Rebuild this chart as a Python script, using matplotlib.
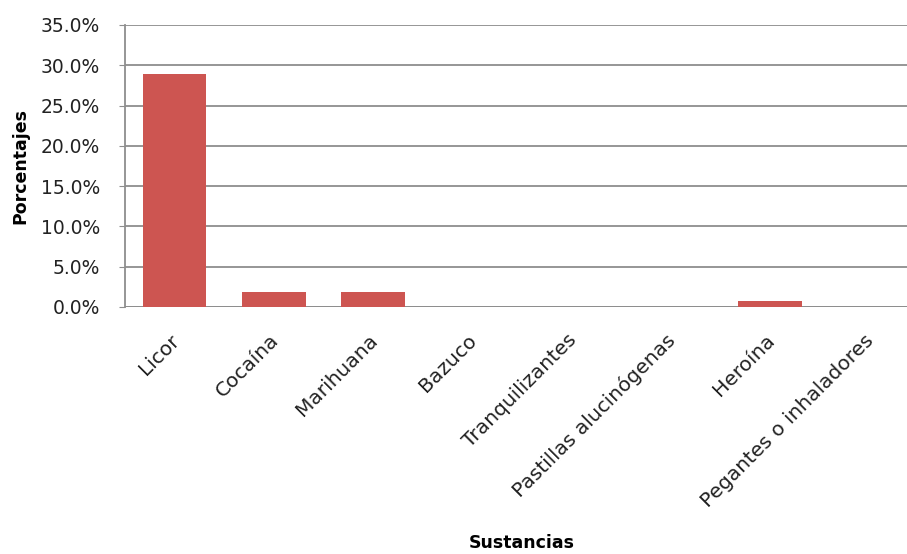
import matplotlib
matplotlib.use("Agg")
import matplotlib.pyplot as plt
import matplotlib.transforms as mtransforms
from matplotlib.ticker import PercentFormatter

categories = ["Licor", "Cocaína", "Marihuana", "Bazuco", "Tranquilizantes",
              "Pastillas alucinógenas", "Heroína", "Pegantes o inhaladores"]
values = [28.9, 1.8, 1.8, 0.0, 0.0, 0.0, 0.8, 0.0]
yticks = [0, 5, 10, 15, 20, 25, 30, 35]

plt.rcParams['font.family'] = ['DejaVu Sans']

W, H = 907, 554
fig = plt.figure(figsize=(W / 100, H / 100), dpi=100)
left, right, top, bottom = 125, 919, 25, 307
ax = fig.add_axes([left / W, (H - bottom) / H, (right - left) / W, (bottom - top) / H])

x = range(len(categories))
ax.bar(x, values, width=0.64, color="#CD5551", zorder=3)

ax.set_xlim(-0.5, len(categories) - 0.5)
ax.set_ylim(0, 35)
ax.set_yticks(yticks)
ax.yaxis.set_major_formatter(PercentFormatter(decimals=1))
ax.grid(axis="y", color="#8E8E8E", linewidth=1.3, zorder=0)
ax.set_axisbelow(True)

for s in ["top", "right", "bottom"]:
    ax.spines[s].set_visible(False)
ax.spines["left"].set_color("#8E8E8E")
ax.spines["left"].set_linewidth(1.3)
ax.axhline(0, color="#8E8E8E", linewidth=1.3, zorder=2)

ax.tick_params(axis="y", length=4, color="#8E8E8E", labelsize=13.5, labelcolor="#222222", pad=14)
ax.tick_params(axis="x", length=0, pad=17)
ax.set_xticks(list(x))
ax.set_xticklabels(categories, rotation=45, ha="right", rotation_mode="anchor",
                   fontsize=14.5, color="#222222")
shift = mtransforms.ScaledTranslation(-5 / 100, 0, fig.dpi_scale_trans)
for lbl in ax.get_xticklabels():
    lbl.set_transform(lbl.get_transform() + shift)

fig.text((left + right) / 2 / W, 1 - 543 / H, "Sustancias", fontsize=12.5,
         fontweight="bold", ha="center", va="center")
fig.text(20 / W, 1 - 166 / H, "Porcentajes", fontsize=12.5, fontweight="bold",
         rotation=90, ha="center", va="center")

fig.savefig("out.png", dpi=100)
